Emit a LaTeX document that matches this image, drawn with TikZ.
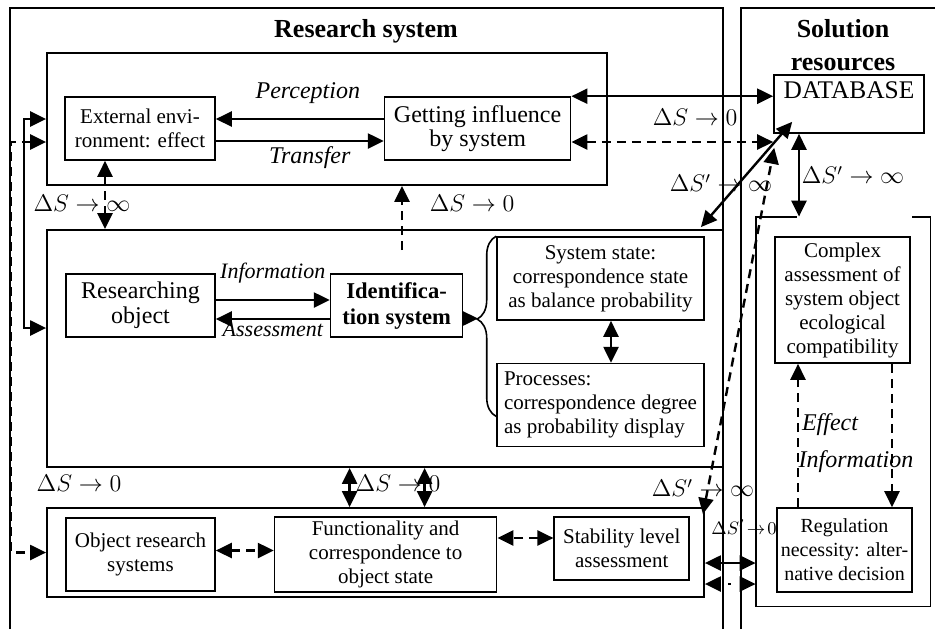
\documentclass[tikz,border=0pt]{standalone}
\usepackage{amsmath, amssymb}
\usepackage{fontspec}
\setmainfont{Liberation Serif}
\usetikzlibrary{arrows.meta, positioning, calc, decorations.pathreplacing}

\begin{document}
\begin{tikzpicture}[x=0.5pt, y=-0.5pt, >={Triangle[length=8pt, width=7.5pt]},
    block/.style={draw, line width=0.8pt, align=center, inner sep=2pt, font=\fontsize{10.5}{12}\selectfont},
    sysframe/.style={draw, line width=0.9pt, inner sep=0pt},
    flow/.style={line width=1.2pt},
    dashline/.style={line width=1.2pt, dash pattern=on 4.5pt off 3pt},
    delta/.style={font=\fontsize{12}{14}\selectfont, inner sep=1pt},
    caption/.style={font=\fontsize{12}{14}\selectfont\itshape, inner sep=1pt},
    heading/.style={font=\fontsize{13}{16.5}\selectfont\bfseries, align=center}]
    \useasboundingbox (0,0) rectangle (935,629);
    \draw[line width=0.6pt] (10,629) -- (10,8) -- (723,8) -- (723,629);
    \draw[line width=0.6pt] (741,629) -- (741,8) -- (935,8);
    \node[heading] (research_title) at (366,31) {Research system};
    \node[heading] (solution_title) at (843,45) {Solution\\resources};

    \node[sysframe, minimum width=280pt, minimum height=66pt] (top_box) at (327,119) {};
    \node[sysframe, minimum width=338pt, minimum height=118.5pt] (mid_box) at (385,348.5) {};
    \node[sysframe, minimum width=328.5pt, minimum height=44.5pt] (low_box) at (375.5,552.5) {};
    \node[minimum width=87pt, minimum height=194.5pt, inner sep=0pt] (sol_box) at (843,411.5) {};
    \draw[line width=0.9pt] ([xshift=20.5pt]sol_box.north west) -- (sol_box.north west) -- (sol_box.south west)
        -- (sol_box.south east) -- (sol_box.north east) -- ([xshift=-9pt]sol_box.north east);

    \node[block, minimum width=75pt, minimum height=31.5pt] (external) at (140,128.5) {External envi-\\ronment: effect};
    \node[block, minimum width=93pt, minimum height=31.5pt, right=84pt of external, font=\fontsize{12}{12}\selectfont] (getting) {Getting influence\\by system};
    \draw[flow, ->] ([yshift=4.75pt]getting.west) -- node[caption, midway, above=6pt, xshift=4pt] (perception) {Perception} ([yshift=4.75pt]getting.west -| external.east);
    \draw[flow, ->] ([yshift=-6.25pt]external.east) -- node[caption, midway, below=1pt, xshift=5pt] (transfer) {Transfer} ([yshift=-6.25pt]external.east -| getting.west);

    \node[block, minimum width=74.5pt, minimum height=31.5pt, font=\fontsize{12}{12.5}\selectfont] (researching) at (140.5,305.5) {Researching\\object};
    \node[block, minimum width=66pt, minimum height=31.5pt, right=57pt of researching, font=\fontsize{11.3}{13}\selectfont\bfseries] (identification) {Identifica-\\tion system};
    \draw[flow, ->] ([yshift=2.75pt]researching.east) -- node[caption, midway, above=7pt, font=\fontsize{11}{13}\selectfont\itshape] (information) {Information} ([yshift=2.75pt]researching.east -| identification.west);
    \draw[flow, ->] ([yshift=-6.75pt]identification.west) -- node[caption, midway, below=0pt, font=\fontsize{11}{13}\selectfont\itshape] (assessment) {Assessment} ([yshift=-6.75pt]identification.west -| researching.east);

    \node[block, minimum width=103.5pt, minimum height=41.5pt] (system_state) at (600.5,278.5) {System state:\\correspondence state\\as balance probability};
    \node[block, minimum width=103.5pt, minimum height=41.5pt, below=21pt of system_state, align=left] (processes) {Processes:\\correspondence degree\\as probability display};
    \draw[line width=0.8pt, decorate, decoration={brace, amplitude=9.5pt, aspect=0.54}] ([yshift=15.5pt]processes.south west) -- (system_state.north west);
    \coordinate (brace_tip) at (478,318.5);
    \draw[flow, ->] ([yshift=-6.5pt]identification.east) -- (brace_tip);
    \draw[flow, <->] ([xshift=5.25pt]system_state.south) -- ([xshift=5.25pt]processes.north);

    \node[block, minimum width=74.5pt, minimum height=36.5pt] (object_research) at (140.5,554.5) {Object research\\systems};
    \node[block, minimum width=111pt, minimum height=37pt, right=29pt of object_research] (functionality) {Functionality and\\correspondence to\\object state};
    \node[block, minimum width=67.5pt, minimum height=31.5pt, right=28pt of functionality.north east, anchor=north west] (stability) {Stability level\\assessment};
    \draw[dashline, <->] ([yshift=2pt]object_research.east) -- ([yshift=2pt]object_research.east -| functionality.west);
    \draw[dashline, <->] ([yshift=5.25pt]stability.west) -- ([yshift=5.25pt]stability.west -| functionality.east);

    \node[block, minimum width=75pt, minimum height=29pt, font=\fontsize{12.7}{14}\selectfont] (database) at (849,104) {DATABASE\\\mbox{}};
    \node[block, minimum width=67.5pt, minimum height=63pt] (complex) at (842.5,300) {Complex\\assessment of\\system object\\ecological\\compatibility};
    \node[block, minimum width=65.5pt, minimum height=42pt, font=\fontsize{10}{12}\selectfont] (regulation) at (844.5,550) {Regulation\\necessity: alter-\\native decision};
    \draw[dashline, ->] ([xshift=-23.25pt]regulation.north) -- ([xshift=-23.25pt]regulation.north |- complex.south);
    \draw[dashline, ->] ([xshift=24.75pt]complex.south) -- ([xshift=24.75pt]complex.south |- regulation.north);
    \node[caption] (effect) at (830,425) {Effect};
    \node[caption] (information_sol) at (856,462) {Information};

    \draw[dashline, <->] ([xshift=-17.5pt]external.south) -- ([xshift=-17.5pt]external.south |- mid_box.north);
    \coordinate (id_up) at (402,250);
    \draw[dashline, ->] (id_up) -- (id_up |- top_box.south);
    \draw[flow, <->] ([xshift=-18pt]functionality.north |- mid_box.south) -- ([xshift=-18pt]functionality.north |- low_box.north);
    \draw[dashline, <->] ([xshift=19.5pt]functionality.north |- mid_box.south) -- ([xshift=19.5pt]functionality.north |- low_box.north);
    \draw[flow, <->] (top_box.west) -- ++(-11pt,0) |- ([yshift=10.25pt]mid_box.west);
    \draw[dashline, <->] ([yshift=-11.5pt]top_box.west) -- ++(-17.5pt,0) |- (low_box.west);

    \draw[flow, <->] (getting.north east) -- (getting.north east -| database.west);
    \draw[dashline, <->] ([yshift=-6.75pt]getting.east) -- ([yshift=-6.75pt]getting.east -| database.west);
    \draw[flow, <->] ([xshift=-11.5pt, yshift=1pt]mid_box.north east) -- ([shift={(9.5pt,6pt)}]database.south west);
    \draw[dashline, <->] ([xshift=-1pt, yshift=-3.5pt]low_box.north east) -- ([shift={(0.5pt,-7pt)}]database.south west);
    \draw[flow, <->] ([xshift=-25pt]database.south) -- ([xshift=-25pt]database.south |- sol_box.north);
    \draw[flow, <->] ([yshift=-5.25pt]low_box.east) -- ([yshift=-5.25pt]low_box.east -| sol_box.west);
    \draw[flow, <->, dash pattern=on 1.2pt off 8pt, dash phase=-4pt] ([yshift=-15.75pt]low_box.east) -- ([yshift=-15.75pt]low_box.east -| sol_box.west);

    \node[delta] (ds_inf_left) at (82,203) {$\Delta S\to\infty$};
    \node[delta] (ds_zero_top) at (472,203) {$\Delta S\to 0$};
    \node[delta] (ds_zero_db) at (695,117) {$\Delta S\to 0$};
    \node[delta] (dsp_inf_mid) at (721,183) {$\Delta S'\to\infty$};
    \node[delta] (dsp_inf_db) at (853,175) {$\Delta S'\to\infty$};
    \node[delta] (ds_zero_left) at (79,483) {$\Delta S\to 0$};
    \node[delta] (ds_zero_mid) at (398,483) {$\Delta S\to 0$};
    \node[delta] (dsp_inf_low) at (703,488) {$\Delta S'\to\infty$};
    \node[delta, font=\fontsize{9.5}{11}\selectfont] (dsp_zero) at (744,527) {$\Delta S'\!\to\! 0$};
\end{tikzpicture}
\end{document}
